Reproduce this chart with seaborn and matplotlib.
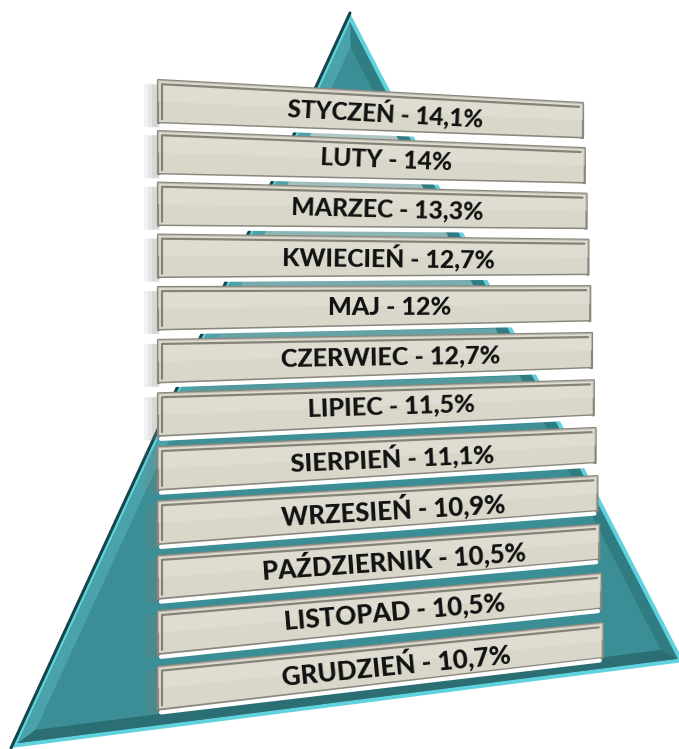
import numpy as np
import pandas as pd
import matplotlib
matplotlib.use("Agg")
import matplotlib.pyplot as plt
from matplotlib.patches import Polygon
import seaborn as sns

# data
months = ["STYCZEŃ", "LUTY", "MARZEC", "KWIECIEŃ", "MAJ", "CZERWIEC",
          "LIPIEC", "SIERPIEŃ", "WRZESIEŃ", "PAŹDZIERNIK", "LISTOPAD", "GRUDZIEŃ"]
shares = [14.1, 14.0, 13.3, 12.7, 12.0, 12.7, 11.5, 11.1, 10.9, 10.5, 10.5, 10.7]

df = pd.DataFrame({"month": months, "share": shares})
df["label"] = df["month"] + " - " + df["share"].map(lambda v: f"{v:g}".replace(".", ",")) + "%"

sns.set_theme(style="white")
plt.rcParams["font.family"] = ["Lato", "DejaVu Sans"]

W, H = 679, 749
fig = plt.figure(figsize=(W / 100, H / 100), dpi=100)
ax = fig.add_axes([0, 0, 1, 1])
ax.set_xlim(0, W)
ax.set_ylim(H, 0)
ax.axis("off")


def inset(poly, d):
    # offset a convex polygon inward by d pixels
    p = np.asarray(poly, float)
    n = len(p)
    c = p.mean(axis=0)
    lines = []
    for k in range(n):
        a, b = p[k], p[(k + 1) % n]
        t = (b - a) / np.linalg.norm(b - a)
        nrm = np.array([-t[1], t[0]])
        if np.dot(c - a, nrm) < 0:
            nrm = -nrm
        lines.append((a + nrm * d, t))
    out = []
    for k in range(n):
        (a1, t1), (a2, t2) = lines[k - 1], lines[k]
        A = np.array([t1, -t2]).T
        s = np.linalg.solve(A, a2 - a1)
        out.append(a1 + s[0] * t1)
    return np.array(out)


# ---- pyramid
outer = np.array([(350, 13), (11, 748), (684, 662)])
mid = inset(outer, 4)
face = inset(outer, 15)

ax.add_patch(Polygon(outer, closed=True, fc="#5fd2de", ec="none", zorder=1))
ax.add_patch(Polygon(mid, closed=True, fc="#2f7c82", ec="none", zorder=2))
# left bevel band lighter
ax.add_patch(Polygon([mid[0], mid[1], face[1], face[0]], closed=True,
                     fc="#4aa3aa", ec="none", zorder=3))
# bottom bevel band darker
ax.add_patch(Polygon([mid[1], mid[2], face[2], face[1]], closed=True,
                     fc="#2b6f74", ec="none", zorder=3))
face_patch = Polygon(face, closed=True, fc="#3b8e95", ec="none", zorder=4)
ax.add_patch(face_patch)
ax.plot([outer[0][0], outer[1][0]], [outer[0][1], outer[1][1]],
        color="#17464a", lw=2.2, zorder=5, solid_capstyle="round")


# ---- bars
def bar_quad(i):
    lt = 80 + 50.86 * i + 0.227 * i * i
    rt = 103 + 44.94 * i + 0.212 * i * i
    lx, rx = 158, 583 + 1.8 * i
    return np.array([(lx, lt), (rx, rt), (rx, rt + 35), (lx, lt + 43)])


for i, row in df.iterrows():
    q = bar_quad(i)
    # pale glow just above each bar, fading down the pyramid
    glow_a = max(0.0, 0.8 - 0.11 * i)
    if i > 0 and glow_a > 0:
        g = np.array([(q[0][0] + 20, q[0][1] - 6), (q[1][0] - 20, q[1][1] - 6),
                      (q[1][0] - 20, q[1][1] + 8), (q[0][0] + 20, q[0][1] + 8)])
        gp = Polygon(g, closed=True, fc="#e6e4dc", ec="none", alpha=glow_a, zorder=6)
        ax.add_patch(gp)
        gp.set_clip_path(face_patch)
    # soft shadow to the left
    for k, a in enumerate([0.10, 0.10, 0.12]):
        sh = q + np.array([-14 + 4 * k, 4])
        ax.add_patch(Polygon(sh, closed=True, fc="#7d7d7d", ec="none",
                             alpha=a, zorder=7, joinstyle="round"))
    ax.add_patch(Polygon(q, closed=True, fc="#d9d7ca", ec="#8b877c", lw=1.6,
                         zorder=8, joinstyle="round"))
    # inner top dark edge + lower white highlight
    qi = inset(q, 4)
    ax.plot([qi[3][0], qi[0][0], qi[1][0]], [qi[3][1], qi[0][1], qi[1][1]],
            color="#6f6b61", lw=1.6, zorder=9, alpha=0.8)
    ax.plot([q[3][0] + 3, q[2][0] - 3], [q[3][1] + 2.5, q[2][1] + 2.5],
            color="white", lw=3, zorder=9, solid_capstyle="round")
    ax.add_patch(Polygon([q[0], q[1], (q[1] + q[2]) / 2, (q[0] + q[3]) / 2], closed=True,
                         fc="#e6e4da", ec="none", alpha=0.5, zorder=8.5))

    fx = 0.535
    x = q[0][0] + fx * (q[1][0] - q[0][0])
    top = q[0][1] + fx * (q[1][1] - q[0][1])
    bot = q[3][1] + fx * (q[2][1] - q[3][1])
    ang = -np.degrees(np.arctan2(q[1][1] - q[0][1], q[1][0] - q[0][0]))
    ax.text(x, (top + bot) / 2 + 1, row["label"], ha="center", va="center",
            rotation=ang, rotation_mode="anchor", fontsize=17.5 + 0.12 * i,
            fontweight="black", color="#111111", zorder=10)

fig.savefig("out.png", dpi=100)
